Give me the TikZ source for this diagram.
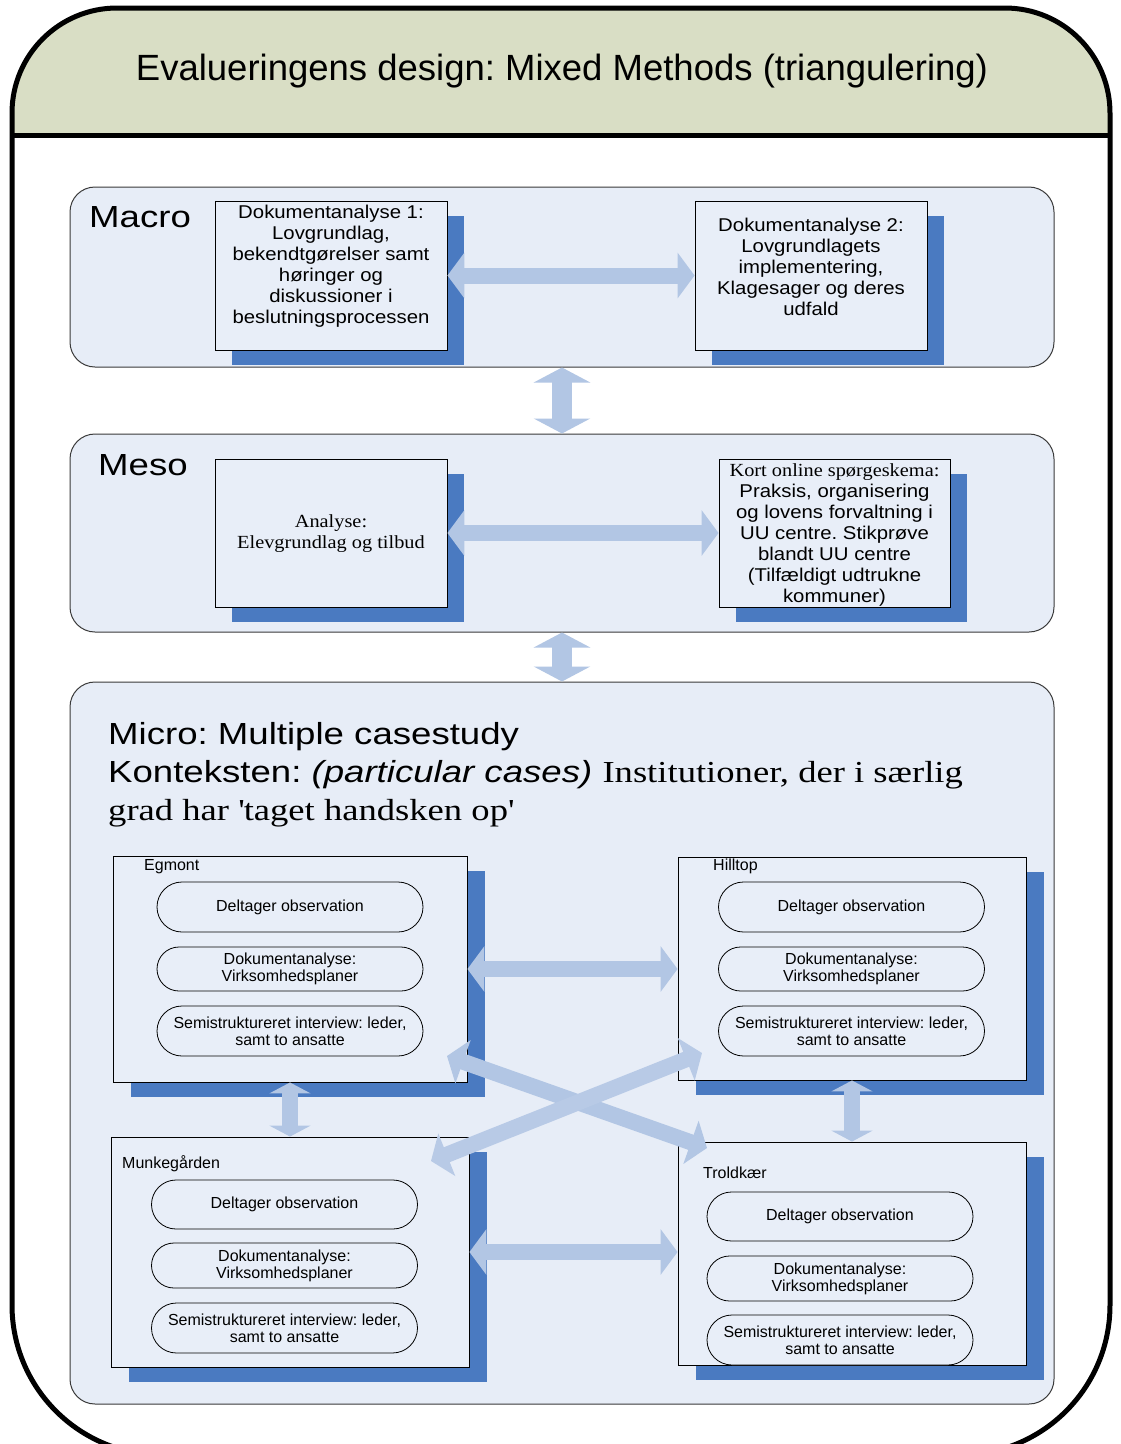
\documentclass[tikz,border=0pt]{standalone}
\usepackage{fontspec}
\setmainfont{Liberation Sans}
\newfontfamily\wsans{Liberation Sans}[FakeStretch=1.2]
\newfontfamily\wserif{Liberation Serif}[FakeStretch=1.2]
\newfontfamily\bsans{Liberation Sans}[FakeStretch=1.1]
\newfontfamily\bserif{Liberation Serif}[FakeStretch=1.1]
\usetikzlibrary{arrows.meta,shapes.misc,shadows,calc}
\frenchspacing
\definecolor{headc}{HTML}{D9DEC5}
\definecolor{panelc}{HTML}{E7EDF7}
\definecolor{boxc}{HTML}{E8EEF8}
\definecolor{shadowc}{HTML}{4A7AC1}
\definecolor{arrowc}{HTML}{B2C6E4}
\definecolor{arrowl}{HTML}{B8CAE6}
\definecolor{panelline}{HTML}{3A3A3A}
\tikzset{
  panel/.style={draw=panelline, line width=1pt, fill=panelc, rounded corners=25pt, inner sep=0pt},
  docbox/.style={draw=black, line width=0.9pt, fill=boxc, inner sep=0pt,
    drop shadow={shadow xshift=17pt, shadow yshift=-15pt, fill=shadowc, opacity=1}},
  casebox/.style={draw=black, line width=0.9pt, fill=boxc, inner sep=0pt,
    drop shadow={shadow xshift=18pt, shadow yshift=-15pt, fill=shadowc, opacity=1}},
  pill/.style={rounded rectangle, draw=black, line width=0.8pt, fill=boxc, inner sep=0pt,
    minimum width=266pt, align=center, font=\fontsize{16}{17}\selectfont},
  btext/.style={align=center, inner sep=0pt, font=\bsans\fontsize{18.5}{21}\selectfont},
  biglabel/.style={anchor=west, inner sep=0pt, font=\wsans\fontsize{30.5}{38}\selectfont},
  caselabel/.style={anchor=base west, inner sep=0pt, font=\fontsize{16}{17}\selectfont},
  dbl/.style={draw=arrowc, line width=16pt, arrows={Triangle[width=45pt,length=17pt]-Triangle[width=45pt,length=17pt]}},
  vdbl/.style={draw=arrowc, line width=20pt, arrows={Triangle[width=56pt,length=15pt]-Triangle[width=56pt,length=15pt]}},
  sdbl/.style={draw=arrowc, line width=16pt, arrows={Triangle[width=41pt,length=11pt]-Triangle[width=41pt,length=11pt]}},
}
\begin{document}
\begin{tikzpicture}[x=1pt,y=-1pt]
\useasboundingbox (0,0) rectangle (1120,1444);
\clip (0,0) rectangle (1120,1444);
% outer frame
\fill[white] (12,113) arc[start angle=180,end angle=90,radius=105pt] -- (1005,8)
  arc[start angle=90,end angle=0,radius=105pt] -- (1110,1305)
  arc[start angle=0,end angle=-90,radius=150pt] -- (162,1455)
  arc[start angle=-90,end angle=-180,radius=150pt] -- cycle;
\fill[headc] (12,135) -- (12,113) arc[start angle=180,end angle=90,radius=105pt] -- (1005,8)
  arc[start angle=90,end angle=0,radius=105pt] -- (1110,135) -- cycle;
\draw[line width=5pt] (12,113) arc[start angle=180,end angle=90,radius=105pt] -- (1005,8)
  arc[start angle=90,end angle=0,radius=105pt] -- (1110,1305)
  arc[start angle=0,end angle=-90,radius=150pt] -- (162,1455)
  arc[start angle=-90,end angle=-180,radius=150pt] -- cycle;
\draw[line width=5pt] (12,135) -- (1110,135);
\node[inner sep=0pt, font=\fontsize{36.5}{40}\selectfont] (title) at (562,71) {Evalueringens design: Mixed Methods (triangulering)};

% panels
\node[panel, minimum width=984pt, minimum height=180pt] (macro) at (562,277) {};
\node[panel, minimum width=984pt, minimum height=198pt] (meso) at (562,533) {};
\node[panel, minimum width=984pt, minimum height=722pt] (micro) at (562,1043) {};

\node[biglabel] (macrol) at (89,217) {Macro};
\node[biglabel] (mesol) at (98,465) {Meso};

% macro boxes
\node[docbox, minimum width=232pt, minimum height=149pt] (m1) at (331,275.5) {};
\node[docbox, minimum width=232pt, minimum height=149pt] (m2) at (811,275.5) {};
\node[btext] (m1t) at (331,266.5) {Dokumentanalyse 1:\\Lovgrundlag,\\bekendtgørelser samt\\høringer og\\diskussioner i\\beslutningsprocessen};
\node[btext] (m2t) at (811,266.5) {Dokumentanalyse 2:\\Lovgrundlagets\\implementering,\\Klagesager og deres\\udfald};

% meso boxes
\node[docbox, minimum width=232pt, minimum height=148pt] (s1) at (331,533) {};
\node[docbox, minimum width=231pt, minimum height=148pt] (s2) at (834.5,533) {};
\node[btext, font=\bserif\fontsize{18.5}{21}\selectfont] (s1t) at (331,534) {Analyse:\\Elevgrundlag og tilbud};
\node[btext] (s2t) at (834.5,534.5) {{\bserif Kort online spørgeskema:}\\Praksis, organisering\\og lovens forvaltning i\\UU centre. Stikprøve\\blandt UU centre\\(Tilfældigt udtrukne\\kommuner)};

% micro title
\node[anchor=north west, align=left, inner sep=0pt, font=\wsans\fontsize{30.5}{38}\selectfont] (mt) at (108,722)
 {Micro: Multiple casestudy\\Konteksten: {\itshape (particular cases)} {\wserif Institutioner, der i særlig}\\{\wserif grad har \textquotesingle taget handsken op\textquotesingle}};

% case boxes
\node[casebox, minimum width=354pt, minimum height=226pt] (eg) at (290,969) {};
\node[casebox, minimum width=348pt, minimum height=223pt] (hi) at (852,968.5) {};
\node[casebox, minimum width=358pt, minimum height=230pt] (mu) at (290,1252) {};
\node[casebox, minimum width=348pt, minimum height=223pt] (tr) at (852,1253.5) {};

\node[caselabel] (egl) at (144,870) {Egmont};
\node[caselabel] (hil) at (713,870) {Hilltop};
\node[caselabel] (mul) at (122,1168) {Munkegården};
\node[caselabel] (trl) at (703,1178) {Troldkær};

% pills
\node[pill, minimum height=50pt] (eg1) at (290,907) {Deltager observation};
\node[pill, minimum height=44pt] (eg2) at (290,969) {Dokumentanalyse:\\Virksomhedsplaner};
\node[pill, minimum height=50pt] (eg3) at (290,1031) {Semistruktureret interview: leder,\\samt to ansatte};
\node[pill, minimum height=50pt] (hi1) at (851.5,907) {Deltager observation};
\node[pill, minimum height=44pt] (hi2) at (851.5,969) {Dokumentanalyse:\\Virksomhedsplaner};
\node[pill, minimum height=50pt] (hi3) at (851.5,1031) {Semistruktureret interview: leder,\\samt to ansatte};
\node[pill, minimum height=49pt] (mu1) at (284.5,1204.5) {Deltager observation};
\node[pill, minimum height=45pt] (mu2) at (284.5,1265.5) {Dokumentanalyse:\\Virksomhedsplaner};
\node[pill, minimum height=50pt] (mu3) at (284.5,1328) {Semistruktureret interview: leder,\\samt to ansatte};
\node[pill, minimum height=49pt] (tr1) at (840,1216.5) {Deltager observation};
\node[pill, minimum height=45pt] (tr2) at (840,1278.5) {Dokumentanalyse:\\Virksomhedsplaner};
\node[pill, minimum height=50pt] (tr3) at (840,1340) {Semistruktureret interview: leder,\\samt to ansatte};

% connectors
\draw[dbl] (m1.east) -- (m2.west);
\draw[dbl] (s1.east) -- (s2.west);
\draw[vdbl] (macro.south) -- (meso.north);
\draw[vdbl] (meso.south) -- (micro.north);
\draw[dbl] (eg.east) -- (eg.east -| hi.west);
\draw[dbl] (mu.east) -- (mu.east -| tr.west);
\draw[sdbl] (eg.south) -- (mu.north);
\draw[sdbl] (hi.south) -- (hi.south |- tr.north);
\coordinate (ca1) at (447,1056);
\coordinate (ca2) at (707,1148);
\coordinate (cb1) at (431,1161);
\coordinate (cb2) at (702,1053);
\draw[dbl] (ca1) -- (ca2);
\draw[dbl, draw=arrowl] (cb1) -- (cb2);
\end{tikzpicture}
\end{document}
